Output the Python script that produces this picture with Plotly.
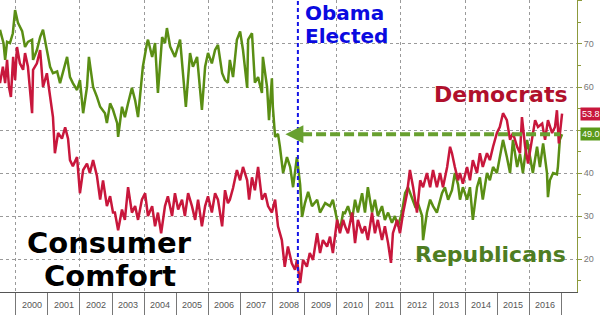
import plotly.graph_objects as go

# ---------------- data (decimal years, index value) ----------------
rep_x = [1999.51,1999.62,1999.67,1999.73,1999.82,1999.91,1999.98,2000.07,2000.20,2000.29,2000.38,2000.51,2000.54,2000.66,2000.76,2000.85,2000.97,
         2001.07,2001.16,2001.29,2001.38,2001.47,2001.60,2001.69,2001.78,2001.91,2002.00,2002.10,2002.22,2002.28,2002.41,2002.53,2002.63,2002.78,2002.84,2002.94,
         2003.03,2003.16,2003.19,2003.31,2003.40,2003.50,2003.62,2003.72,2003.81,2003.87,2003.96,2004.09,2004.12,2004.25,2004.34,2004.43,2004.56,2004.65,2004.71,2004.81,2004.96,
         2005.12,2005.21,2005.30,2005.43,2005.52,2005.65,2005.74,2005.80,2005.90,2005.99,2006.11,2006.21,2006.30,2006.43,2006.52,2006.61,2006.67,2006.77,2006.89,2006.99,
         2007.08,2007.21,2007.24,2007.36,2007.45,2007.55,2007.67,2007.70,2007.83,2007.89,2007.98,2008.01,2008.08,2008.17,2008.23,2008.33,2008.45,2008.55,2008.64,2008.76,2008.86,2008.92,
         2009.01,2009.11,2009.23,2009.39,2009.48,2009.64,2009.79,2009.88,2010.01,2010.10,2010.20,2010.26,2010.35,2010.48,2010.57,2010.66,2010.79,2010.88,2010.97,
         2011.10,2011.19,2011.28,2011.41,2011.50,2011.60,2011.72,2011.81,2011.91,2012.03,2012.13,2012.22,2012.35,2012.44,2012.53,2012.66,2012.69,2012.81,2012.91,
         2013.00,2013.12,2013.28,2013.37,2013.47,2013.59,2013.68,2013.78,2013.84,2013.93,2014.06,2014.15,2014.24,2014.37,2014.46,2014.55,2014.68,2014.77,2014.87,2014.99,
         2015.08,2015.18,2015.30,2015.40,2015.49,2015.62,2015.71,2015.80,2015.93,2016.02,2016.11,2016.24,2016.33,2016.43,2016.55,2016.58,2016.64,2016.74,2016.86,2016.89,2016.95,2017.02]
rep_y = [73.3,70.2,66.3,70.5,70.2,72.5,77.9,74.9,73.0,69.3,70.5,71.0,66.3,68.6,71.6,73.3,68.6,
         64.7,63.2,63.6,60.9,63.2,67.0,62.3,60.9,59.3,61.6,53.9,60.0,67.0,60.0,57.7,55.4,53.9,51.6,56.2,
         54.7,51.6,48.4,55.4,53.0,56.2,59.8,56.9,53.0,57.7,64.7,70.2,71.0,67.0,70.2,58.6,71.6,70.2,73.7,69.4,67.0,
         71.0,62.3,55.4,67.9,64.7,67.0,58.6,54.7,64.7,67.9,65.5,68.6,69.8,63.2,61.6,61.0,66.3,62.3,71.0,72.9,
         68.6,59.8,71.0,72.5,61.0,62.3,58.6,67.0,60.0,52.3,62.0,55.4,48.4,49.1,46.1,40.0,43.7,41.4,36.7,43.7,37.3,29.8,
         33.0,35.6,32.3,33.8,30.8,33.0,32.3,33.8,29.1,26.7,30.8,30.7,32.3,29.1,33.8,30.8,35.3,30.8,36.7,
         30.8,33.8,30.0,32.3,29.1,30.8,28.4,30.0,27.6,30.8,35.3,36.7,33.8,32.3,33.0,30.0,24.4,30.8,33.8,
         32.3,30.8,35.3,36.7,33.8,36.0,40.0,37.3,33.8,36.7,33.8,36.7,29.1,36.7,39.0,33.8,40.0,38.3,41.4,40.0,
         43.7,47.7,43.7,40.0,47.7,41.4,44.4,40.0,47.7,43.7,40.0,46.1,41.4,46.9,40.0,34.4,38.3,40.0,39.7,41.4,47.7,49.0]

dem_x = [1999.51,1999.60,1999.67,1999.73,1999.79,1999.85,1999.92,1999.98,2000.04,2000.13,2000.23,2000.29,2000.38,2000.51,2000.54,2000.66,2000.76,2000.85,2000.97,
         2001.07,2001.16,2001.22,2001.32,2001.44,2001.54,2001.63,2001.69,2001.78,2001.91,2002.00,2002.10,2002.22,2002.31,2002.41,2002.53,2002.63,2002.72,2002.84,2002.94,
         2003.03,2003.09,2003.19,2003.31,2003.40,2003.50,2003.62,2003.72,2003.81,2003.93,2004.03,2004.12,2004.25,2004.34,2004.43,2004.53,2004.65,2004.74,2004.87,2004.96,
         2005.06,2005.18,2005.27,2005.37,2005.49,2005.59,2005.68,2005.80,2005.90,2005.99,2006.11,2006.21,2006.30,2006.43,2006.52,2006.61,2006.67,2006.77,2006.89,2006.99,
         2007.08,2007.21,2007.27,2007.36,2007.45,2007.55,2007.67,2007.77,2007.86,2007.98,2008.08,2008.17,2008.29,2008.38,2008.48,2008.60,2008.70,2008.76,2008.86,2008.95,
         2009.07,2009.16,2009.26,2009.39,2009.48,2009.57,2009.70,2009.79,2009.88,2010.01,2010.10,2010.20,2010.26,2010.35,2010.48,2010.57,2010.66,2010.79,2010.88,2010.97,
         2011.10,2011.19,2011.28,2011.41,2011.50,2011.60,2011.69,2011.75,2011.88,2011.97,2012.07,2012.19,2012.28,2012.38,2012.50,2012.60,2012.69,2012.81,2012.91,
         2013.00,2013.12,2013.22,2013.31,2013.44,2013.53,2013.59,2013.68,2013.78,2013.84,2013.93,2014.06,2014.15,2014.24,2014.37,2014.46,2014.55,2014.68,2014.77,2014.87,2014.99,
         2015.08,2015.18,2015.30,2015.40,2015.49,2015.62,2015.71,2015.77,2015.87,2015.96,2016.08,2016.18,2016.27,2016.40,2016.49,2016.58,2016.71,2016.80,2016.86,2016.92,2017.02]
dem_y = [60.9,64.7,60.9,66.3,60.0,57.7,67.0,61.6,69.3,65.5,64.0,67.9,64.7,53.9,64.0,65.5,68.6,60.0,63.2,
         57.7,53.0,44.6,49.3,48.0,50.6,48.0,43.0,41.6,43.7,35.3,40.7,42.2,40.0,43.0,39.3,33.8,38.3,32.3,34.6,
         30.8,30.8,26.7,31.5,29.1,36.7,30.8,32.3,29.1,33.8,35.3,30.0,32.3,27.6,30.8,26.0,32.3,34.6,30.0,35.3,
         31.5,33.8,30.0,35.3,32.3,29.1,33.8,27.6,32.3,34.6,30.8,35.3,33.8,27.6,36.0,33.0,33.8,36.5,40.7,38.3,
         41.4,38.3,33.8,39.0,36.0,41.4,33.8,35.3,32.3,30.8,33.8,27.6,24.4,18.2,22.9,19.0,17.5,19.8,14.4,19.8,
         18.2,21.4,19.8,26.0,21.4,24.4,22.9,25.2,21.4,29.1,26.0,29.1,27.6,26.0,30.8,23.7,29.1,26.0,27.6,24.4,
         30.8,26.0,29.1,24.4,27.6,23.7,19.1,26.0,29.1,26.0,30.8,35.3,40.7,36.7,30.8,38.3,36.7,40.0,36.7,
         40.7,36.7,40.0,36.7,41.4,46.1,44.6,41.4,38.3,40.0,37.5,41.4,38.3,43.0,40.0,44.6,41.4,44.6,43.0,46.1,49.3,
         50.7,53.9,52.3,47.7,49.3,46.1,44.6,53.0,46.1,42.2,47.7,52.3,50.7,51.5,47.7,52.3,49.3,50.7,54.6,46.9,53.8]

years = list(range(2000, 2017))
year_labels = [str(y) for y in years]
y_ticks = [20, 30, 40, 50, 60, 70, 80]
y_tick_labels = ["20", "30", "40", "", "60", "70", "80"]   # 50 is hidden behind the value tag
obama_elected = 2008.79
last_dem = 53.8
last_rep = 49.0

RED = "#c8173c"
GREEN = "#5a8e14"

fig = go.Figure()
fig.add_trace(go.Scatter(x=rep_x, y=rep_y, mode="lines", line=dict(color=GREEN, width=2.5),
                         showlegend=False, hoverinfo="skip"))
fig.add_trace(go.Scatter(x=dem_x, y=dem_y, mode="lines", line=dict(color=RED, width=2.5),
                         showlegend=False, hoverinfo="skip"))

X0, X1 = 1999.51, 2017.485
fig.update_layout(
    width=600, height=315, margin=dict(l=0, r=23, t=0, b=23),
    paper_bgcolor="white", plot_bgcolor="white", showlegend=False,
    xaxis=dict(range=[X0, X1], tickmode="array", tickvals=list(range(2000, 2017, 2)),
               showticklabels=False, ticks="outside", ticklen=22, tickcolor="#777", tickwidth=1,
               showgrid=True, gridcolor="#9a9a9a", griddash="dot", gridwidth=1,
               showline=True, linecolor="#555", linewidth=1, zeroline=False,
               minor=dict(tickmode="array", tickvals=list(range(2001, 2018, 2)), ticks="outside",
                          ticklen=22, tickcolor="#777", tickwidth=1, showgrid=False)),
    yaxis=dict(range=[12.33, 80.23], side="right", tickmode="array", tickvals=y_ticks,
               ticktext=y_tick_labels,
               ticks="outside", ticklen=4, tickcolor="#8c9a3c", tickwidth=1,
               tickfont=dict(family="Liberation Sans", size=9, color="#777"),
               showgrid=True, gridcolor="#9a9a9a", griddash="dot", gridwidth=1,
               showline=True, linecolor="#8c9a3c", linewidth=1, zeroline=False,
               minor=dict(dtick=5, tick0=0, ticks="outside", ticklen=3, tickcolor="#8c9a3c", showgrid=False)),
)

# year labels centred between boundary ticks
for y, lab in zip(years, year_labels):
    fig.add_annotation(x=y + 0.5, y=0, xref="x", yref="paper", text=lab, showarrow=False,
                       yanchor="top", yshift=-6,
                       font=dict(family="Liberation Sans", size=9, color="#555"))

# Obama elected line
fig.add_shape(type="line", x0=obama_elected, x1=obama_elected, y0=0, y1=1, xref="x", yref="paper",
              line=dict(color="#1414e6", width=2, dash="4px,3px"))

# green dashed arrow at last Republican level
fig.add_shape(type="line", x0=2008.92, x1=2016.96, y0=last_rep, y1=last_rep, xref="x", yref="y",
              line=dict(color="#68a030", width=4, dash="10px,4px"))
fig.add_annotation(x=2008.40, y=last_rep, ax=2008.90, ay=last_rep, xref="x", yref="y",
                   axref="x", ayref="y", showarrow=True, arrowhead=2, arrowsize=0.9,
                   arrowwidth=4, arrowcolor="#68a030", text="")

BOLD = "DejaVu Sans"
fig.add_annotation(x=0.525, y=0.955, xref="paper", yref="paper", text="<b>Obama</b>", showarrow=False,
                   xanchor="left", yanchor="middle", font=dict(family=BOLD, size=20, color="#0a0ae0"))
fig.add_annotation(x=0.525, y=0.877, xref="paper", yref="paper", text="<b>Elected</b>", showarrow=False,
                   xanchor="left", yanchor="middle", font=dict(family=BOLD, size=20, color="#0a0ae0"))
fig.add_annotation(x=0.749, y=0.678, xref="paper", yref="paper", text="<b>Democrats</b>", showarrow=False,
                   xanchor="left", yanchor="middle", font=dict(family=BOLD, size=22, color="#b0102c"))
fig.add_annotation(x=0.716, y=0.130, xref="paper", yref="paper", text="<b>Republicans</b>", showarrow=False,
                   xanchor="left", yanchor="middle", font=dict(family=BOLD, size=22, color="#4e7d22"))
fig.add_annotation(x=0.19, y=0.168, xref="paper", yref="paper", text="<b>Consumer</b>", showarrow=False,
                   xanchor="center", yanchor="middle", font=dict(family=BOLD, size=29, color="black"))
fig.add_annotation(x=0.19, y=0.055, xref="paper", yref="paper", text="<b>Comfort</b>", showarrow=False,
                   xanchor="center", yanchor="middle", font=dict(family=BOLD, size=29, color="black"))

# last-value tags on the right axis
for val, col in ((last_dem, "#c8173c"), (last_rep, "#5a9a1a")):
    fig.add_annotation(x=1, y=val, xref="paper", yref="y", text=f"{val:.1f}", showarrow=False,
                       xanchor="left", yanchor="middle", xshift=3, bgcolor=col, borderpad=1,
                       font=dict(family="Liberation Sans", size=9, color="white"))

fig.write_html("out.html")
